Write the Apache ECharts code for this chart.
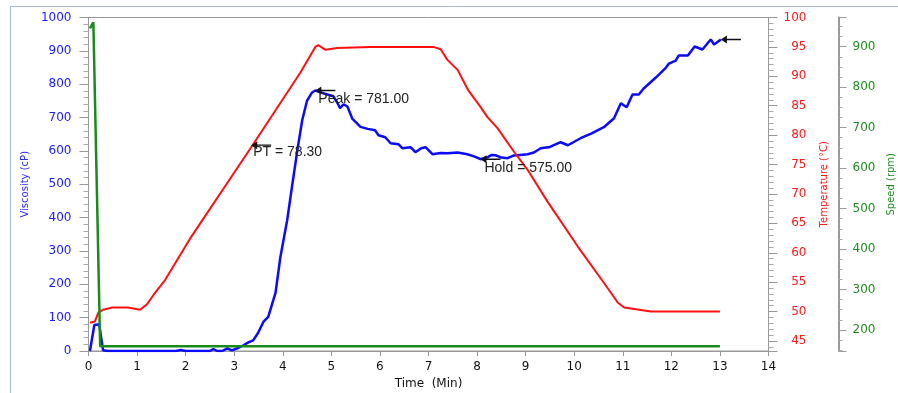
<!DOCTYPE html>
<html>
<head>
<meta charset="utf-8">
<script src="https://cdn.jsdelivr.net/npm/echarts@6/dist/echarts.min.js"></script>
<style>
	html, body { margin: 0; padding: 0; background: #fff; }
	#main { width: 898px; height: 393px; }
</style>
</head>
<body>
<div id="main"></div>
<script>
// ==== data ====
const viscTime = [0.03, 0.12, 0.22, 0.3, 0.4, 1.0, 1.8, 1.9, 2.0, 2.5, 2.57, 2.65, 2.75, 2.86, 2.95, 3.08, 3.2, 3.29, 3.39, 3.49, 3.6, 3.7, 3.8, 3.85, 3.95, 4.09, 4.2, 4.3, 4.4, 4.5, 4.6, 4.67, 4.85, 5.04, 5.12, 5.18, 5.25, 5.33, 5.43, 5.6, 5.75, 5.9, 5.97, 6.11, 6.22, 6.38, 6.46, 6.63, 6.73, 6.85, 6.94, 7.08, 7.25, 7.39, 7.6, 7.8, 7.95, 8.07, 8.2, 8.3, 8.38, 8.5, 8.63, 8.75, 8.83, 9.04, 9.17, 9.31, 9.5, 9.72, 9.87, 10.13, 10.35, 10.61, 10.82, 10.96, 11.08, 11.2, 11.33, 11.43, 11.68, 11.89, 11.95, 12.09, 12.15, 12.34, 12.48, 12.64, 12.81, 12.88, 13.02];
const viscValues = [0, 78, 80, 2, 0, 0, 0, 3, 0, 0, 6, 0, 0, 8, 2, 9, 18, 26, 32, 54, 87, 102, 150, 174, 281, 392, 503, 602, 692, 751, 775, 781, 772, 764, 745, 728, 740, 733, 697, 672, 666, 662, 647, 641, 623, 620, 608, 611, 596, 608, 611, 590, 594, 593, 595, 590, 583, 575, 580, 588, 587, 580, 578, 586, 587, 590, 595, 608, 612, 626, 617, 638, 652, 671, 698, 743, 731, 769, 769, 787, 820, 850, 862, 871, 886, 886, 913, 904, 934, 919, 934];

const tempTime = [0.03, 0.13, 0.2, 0.3, 0.49, 0.81, 1.06, 1.2, 1.37, 1.58, 2.09, 3.37, 4.36, 4.67, 4.73, 4.88, 5.12, 5.8, 7.1, 7.25, 7.39, 7.6, 7.82, 8.07, 8.21, 8.42, 8.75, 9.04, 9.45, 10.07, 10.61, 10.9, 11.03, 11.58, 13.0];
const tempValues = [48.1, 48.3, 49.8, 50.3, 50.7, 50.7, 50.3, 51.2, 53.2, 55.4, 62.4, 78.2, 90.6, 95.0, 95.3, 94.5, 94.8, 95.0, 95.0, 94.6, 92.8, 91.1, 87.6, 84.8, 83.1, 81.2, 77.3, 74.1, 68.7, 61.1, 54.9, 51.5, 50.7, 50.0, 50.0];

const speedTime = [0.03, 0.1, 0.24, 13.0];
const speedValues = [945, 960, 160, 160];

const xTicks = [0, 14, 1];
const annotations = [
	{ name: "PT", axis: 1, x: 3.35, y: 78.3, text: "PT = 78.30" },
	{ name: "Peak", axis: 0, x: 4.67, y: 781, text: "Peak = 781.00" },
	{ name: "Hold", axis: 0, x: 8.07, y: 575, text: "Hold = 575.00" },
	{ name: "End", axis: 0, x: 13.02, y: 934, text: "" },
];

function pairs(xs, ys) {
	return xs.map((x, i) => [x, ys[i]]);
}

const arrowPath = "path://M0,4 L6,1 L6,3.5 L20,3.5 L20,4.5 L6,4.5 L6,7 Z";
const labelOffset = { PT: [2, 11], Peak: [3, 13], Hold: [4, 13], End: [0, 0] };

function marks(axisIndex) {
	return annotations
		.filter((a) => a.axis === axisIndex)
		.map((a) => ({
			name: a.name,
			coord: [a.x, a.y],
			label: {
				show: a.text !== "",
				formatter: a.text,
				position: labelOffset[a.name],
				align: "left",
				verticalAlign: "middle",
				color: "#222",
				fontFamily: "Liberation Sans",
				fontSize: 14,
			},
		}));
}

var chart = echarts.init(document.getElementById("main"));

var option = {
	animation: false,
	backgroundColor: "#fff",
	graphic: [
		{
			type: "rect",
			shape: { x: 10.5, y: 6.5, width: 1000, height: 1000 },
			style: { fill: "none", stroke: "#a9b8c9", lineWidth: 1 },
			silent: true,
		},
	],
	grid: {
		left: 88.5,
		right: 129.5,
		top: 17.5,
		bottom: 42,
		outerBoundsMode: "none",
		containLabel: false,
		show: true,
		borderColor: "#999",
		borderWidth: 1,
	},
	xAxis: {
		type: "value",
		min: xTicks[0],
		max: xTicks[1],
		interval: xTicks[2],
		name: "Time  (Min)",
		nameLocation: "middle",
		nameGap: 25,
		nameTextStyle: { color: "#111", fontFamily: "DejaVu Sans", fontSize: 12 },
		axisLine: { lineStyle: { color: "#999" } },
		axisTick: { length: 5, lineStyle: { color: "#999" } },
		axisLabel: { color: "#111", fontFamily: "DejaVu Sans", fontSize: 12, margin: 10 },
		splitLine: { show: false },
	},
	yAxis: [
		{
			type: "value",
			min: 0,
			max: 1000,
			interval: 100,
			position: "left",
			name: "Viscosity (cP)",
			nameLocation: "middle",
			nameGap: 48,
			nameTextStyle: { color: "#2a2aff", fontFamily: "DejaVu Sans", fontSize: 10 },
			axisLine: { show: true, lineStyle: { color: "#999" } },
			axisTick: { show: true, length: 9, lineStyle: { color: "#999" } },
			minorTick: { show: true, splitNumber: 5, length: 5, lineStyle: { color: "#aaa" } },
			axisLabel: {
				color: "#1a1aff",
				fontFamily: "DejaVu Sans",
				fontSize: 12,
				margin: 17,
				formatter: (v) => String(v),
			},
			splitLine: { show: false },
		},
		{
			type: "value",
			min: 43.3,
			max: 100,
			splitNumber: 11,
			position: "right",
			name: "Temperature (°C)",
			nameLocation: "middle",
			nameGap: 51,
			nameTextStyle: { color: "#ff1a1a", fontFamily: "DejaVu Sans", fontSize: 10 },
			axisLine: { show: true, lineStyle: { color: "#999" } },
			axisTick: { show: true, length: 9, lineStyle: { color: "#999" } },
			minorTick: { show: true, splitNumber: 5, length: 5, lineStyle: { color: "#aaa" } },
			axisLabel: {
				color: "#ff1a1a",
				fontFamily: "DejaVu Sans",
				fontSize: 12,
				margin: 38,
				align: "right",
				showMinLabel: false,
			},
			splitLine: { show: false },
		},
		{
			type: "value",
			min: 148,
			max: 972,
			splitNumber: 8,
			position: "right",
			offset: 70,
			name: "Speed (rpm)",
			nameLocation: "middle",
			nameGap: 47,
			nameTextStyle: { color: "#1f8f1f", fontFamily: "DejaVu Sans", fontSize: 10 },
			axisLine: { show: true, lineStyle: { color: "#999", width: 2 } },
			axisTick: { show: true, length: 8, lineStyle: { color: "#999" } },
			minorTick: { show: true, splitNumber: 4, length: 4, lineStyle: { color: "#aaa" } },
			axisLabel: {
				color: "#1f8f1f",
				fontFamily: "DejaVu Sans",
				fontSize: 12,
				margin: 14,
				showMinLabel: false,
				showMaxLabel: false,
			},
			splitLine: { show: false },
		},
	],
	series: [
		{
			name: "Viscosity",
			type: "line",
			yAxisIndex: 0,
			data: pairs(viscTime, viscValues),
			showSymbol: false,
			lineStyle: { color: "#0a0aff", width: 2.5 },
			z: 2,
			markPoint: {
				symbol: arrowPath,
				symbolSize: [20, 8],
				symbolOffset: [10, 0],
				itemStyle: { color: "#111" },
				data: marks(0),
			},
		},
		{
			name: "Temperature",
			type: "line",
			yAxisIndex: 1,
			data: pairs(tempTime, tempValues),
			showSymbol: false,
			lineStyle: { color: "#ff1010", width: 2 },
			z: 3,
			markPoint: {
				symbol: arrowPath,
				symbolSize: [20, 8],
				symbolOffset: [10, 0],
				itemStyle: { color: "#111" },
				data: marks(1),
			},
		},
		{
			name: "Speed",
			type: "line",
			yAxisIndex: 2,
			data: pairs(speedTime, speedValues),
			showSymbol: false,
			lineStyle: { color: "#1a8a1a", width: 2.5 },
			z: 4,
		},
	],
};

chart.setOption(option);
</script>
</body>
</html>
